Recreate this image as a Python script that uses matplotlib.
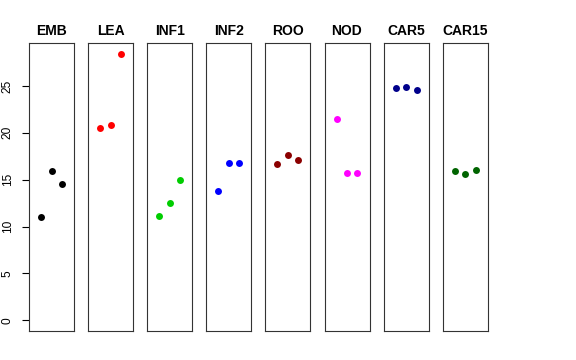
import numpy as np
import matplotlib
matplotlib.use("Agg")
import matplotlib.pyplot as plt

plt.rcParams['font.family'] = ['Liberation Sans', 'DejaVu Sans']

groups = ["EMB", "LEA", "INF1", "INF2", "ROO", "NOD", "CAR5", "CAR15"]
colors = ["black", "red", "#00CD00", "blue", "#8B0000", "magenta", "#00008B", "#006400"]
values = [
    [11.05, 15.95, 14.57],
    [20.55, 20.87, 28.45],
    [11.11, 12.57, 14.99],
    [13.85, 16.74, 16.74],
    [16.70, 17.59, 17.13],
    [21.51, 15.67, 15.67],
    [24.79, 24.89, 24.60],
    [15.88, 15.63, 16.06],
]
yticks = [0, 5, 10, 15, 20, 25]

W, H = 576, 360
fig = plt.figure(figsize=(W / 100, H / 100), dpi=100)

ymax = max(max(v) for v in values)
pad_y = 0.04 * ymax
left0, width, step = 29, 45, 59.1
top, bottom = 43, 331

for i, (g, c, v) in enumerate(zip(groups, colors, values)):
    x0 = left0 + i * step
    ax = fig.add_axes([x0 / W, (H - bottom) / H, width / W, (bottom - top) / H])
    ax.plot([1, 2, 3], v, 'o', color=c, markersize=5, markeredgewidth=0)
    ax.set_xlim(-0.16, 4.16)
    ax.set_ylim(-pad_y, ymax + pad_y)
    ax.set_xticks([])
    for s in ax.spines.values():
        s.set_linewidth(0.8)
        s.set_color("#333333")
    ax.set_title(g, fontsize=10, fontweight='bold', pad=6)
    if i == 0:
        ax.set_yticks(yticks)
        ax.tick_params(axis='y', length=5, width=0.8, pad=6, labelsize=8.6)
        for lab in ax.get_yticklabels():
            lab.set_rotation(90)
            lab.set_va('center')
    else:
        ax.set_yticks([])

fig.savefig("out.png", dpi=100)
